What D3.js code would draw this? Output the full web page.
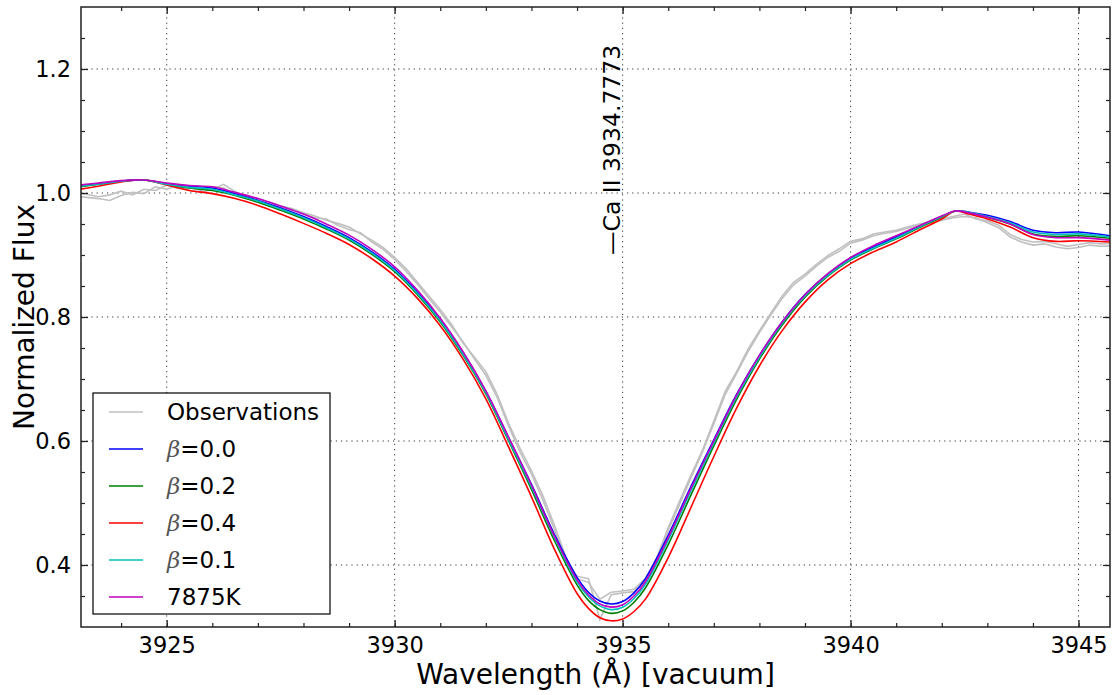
<!DOCTYPE html>
<html>
<head>
<meta charset="utf-8">
<script src="https://cdn.jsdelivr.net/npm/d3@7"></script>
<style>
  html, body { margin: 0; padding: 0; background: #fff; }
  svg { display: block; font-family: "DejaVu Sans", sans-serif; }
  .grid line { stroke: #333; stroke-width: 1; stroke-dasharray: 1.2,4; }
  .tick text { font-size: 22.5px; fill: #000; }
  .ax path.domain { display: none; }
  .ax line { stroke: #222; stroke-width: 1.2; }
</style>
</head>
<body>
<svg id="viz" width="1115" height="695"></svg>
<script>
// model wavelength grid (Å) and flux values
const waveModel = [3923.1, 3923.5, 3924.0, 3924.5, 3925.0, 3925.5, 3926.0, 3926.5, 3927.0, 3927.5,
  3928.0, 3928.5, 3929.0, 3929.5, 3930.0, 3930.5, 3931.0, 3931.5, 3932.0, 3932.5,
  3933.0, 3933.5, 3934.0, 3934.25, 3934.5, 3934.75, 3935.0, 3935.25, 3935.5, 3936.0,
  3936.5, 3937.0, 3937.5, 3938.0, 3938.5, 3939.0, 3939.5, 3940.0, 3940.5, 3941.0,
  3941.5, 3942.0, 3942.3, 3942.6, 3943.0, 3943.5, 3944.0, 3944.5, 3945.0, 3945.7];

const beta00 = [1.012, 1.015, 1.019, 1.021, 1.015, 1.011, 1.008, 0.999, 0.988, 0.976,
  0.962, 0.946, 0.928, 0.905, 0.877, 0.840, 0.796, 0.742, 0.680, 0.605,
  0.530, 0.450, 0.380, 0.356, 0.342, 0.337, 0.341, 0.355, 0.378, 0.448,
  0.527, 0.602, 0.675, 0.738, 0.792, 0.836, 0.869, 0.895, 0.913, 0.929,
  0.946, 0.962, 0.971, 0.969, 0.964, 0.954, 0.940, 0.936, 0.937, 0.931];
const beta02 = [1.010, 1.014, 1.019, 1.021, 1.014, 1.008, 1.004, 0.996, 0.985, 0.972,
  0.958, 0.942, 0.924, 0.901, 0.873, 0.836, 0.792, 0.738, 0.676, 0.600,
  0.522, 0.440, 0.368, 0.343, 0.328, 0.322, 0.326, 0.340, 0.363, 0.433,
  0.513, 0.592, 0.667, 0.732, 0.787, 0.832, 0.866, 0.892, 0.910, 0.926,
  0.944, 0.961, 0.971, 0.968, 0.961, 0.950, 0.934, 0.930, 0.931, 0.927];
const beta04 = [1.006, 1.011, 1.018, 1.021, 1.013, 1.004, 0.999, 0.991, 0.980, 0.966,
  0.951, 0.935, 0.917, 0.894, 0.866, 0.830, 0.786, 0.732, 0.668, 0.590,
  0.510, 0.426, 0.354, 0.330, 0.315, 0.310, 0.313, 0.325, 0.345, 0.412,
  0.493, 0.575, 0.653, 0.721, 0.778, 0.824, 0.860, 0.886, 0.905, 0.921,
  0.940, 0.958, 0.971, 0.966, 0.958, 0.945, 0.928, 0.922, 0.923, 0.921];
const beta01 = [1.011, 1.014, 1.019, 1.021, 1.014, 1.009, 1.006, 0.997, 0.987, 0.974,
  0.960, 0.944, 0.926, 0.903, 0.875, 0.838, 0.794, 0.740, 0.678, 0.602,
  0.526, 0.445, 0.373, 0.349, 0.334, 0.328, 0.332, 0.346, 0.369, 0.440,
  0.520, 0.597, 0.671, 0.735, 0.790, 0.834, 0.867, 0.893, 0.911, 0.927,
  0.945, 0.962, 0.971, 0.969, 0.962, 0.952, 0.937, 0.933, 0.934, 0.929];
const t7875 = [1.013, 1.016, 1.020, 1.021, 1.016, 1.012, 1.010, 1.001, 0.991, 0.979,
  0.966, 0.950, 0.932, 0.909, 0.881, 0.843, 0.798, 0.744, 0.681, 0.606,
  0.529, 0.447, 0.376, 0.352, 0.337, 0.332, 0.336, 0.350, 0.373, 0.444,
  0.524, 0.600, 0.674, 0.738, 0.792, 0.836, 0.870, 0.896, 0.915, 0.931,
  0.947, 0.963, 0.971, 0.968, 0.961, 0.950, 0.933, 0.928, 0.928, 0.924];

// observed spectra (two exposures), 0.25 Å steps
const waveObs = [3923.00, 3923.25, 3923.50, 3923.75, 3924.00, 3924.25, 3924.50, 3924.75,
  3925.00, 3925.25, 3925.50, 3925.75, 3926.00, 3926.25, 3926.50, 3926.75,
  3927.00, 3927.25, 3927.50, 3927.75, 3928.00, 3928.25, 3928.50, 3928.75,
  3929.00, 3929.25, 3929.50, 3929.75, 3930.00, 3930.25, 3930.50, 3930.75,
  3931.00, 3931.25, 3931.50, 3931.75, 3932.00, 3932.25, 3932.50, 3932.75,
  3933.00, 3933.25, 3933.50, 3933.75, 3934.00, 3934.25, 3934.50, 3934.75,
  3935.00, 3935.25, 3935.50, 3935.75, 3936.00, 3936.25, 3936.50, 3936.75,
  3937.00, 3937.25, 3937.50, 3937.75, 3938.00, 3938.25, 3938.50, 3938.75,
  3939.00, 3939.25, 3939.50, 3939.75, 3940.00, 3940.25, 3940.50, 3940.75,
  3941.00, 3941.25, 3941.50, 3941.75, 3942.00, 3942.25, 3942.50, 3942.75,
  3943.00, 3943.25, 3943.50, 3943.75, 3944.00, 3944.25, 3944.50, 3944.75,
  3945.00, 3945.25, 3945.50, 3945.75];
const obsA = [0.995, 0.993, 0.991, 0.988, 0.996, 1.001, 0.999, 1.010,
  1.006, 1.012, 1.004, 1.001, 1.006, 1.014, 1.002, 0.994,
  0.989, 0.985, 0.979, 0.975, 0.968, 0.963, 0.956, 0.951,
  0.945, 0.934, 0.924, 0.912, 0.896, 0.878, 0.856, 0.834,
  0.812, 0.788, 0.758, 0.735, 0.712, 0.675, 0.628, 0.588,
  0.552, 0.512, 0.465, 0.414, 0.378, 0.372, 0.345, 0.356,
  0.358, 0.361, 0.378, 0.412, 0.460, 0.503, 0.545, 0.585,
  0.632, 0.680, 0.712, 0.748, 0.778, 0.806, 0.834, 0.856,
  0.869, 0.885, 0.899, 0.910, 0.922, 0.926, 0.934, 0.937,
  0.940, 0.945, 0.950, 0.954, 0.958, 0.962, 0.966, 0.958,
  0.955, 0.948, 0.933, 0.925, 0.921, 0.922, 0.918, 0.914,
  0.917, 0.920, 0.918, 0.919];
const obsB = [1.001, 0.998, 0.994, 0.997, 1.003, 0.997, 1.006, 1.004,
  1.013, 1.007, 1.009, 1.004, 1.010, 1.008, 0.998, 0.992,
  0.990, 0.983, 0.977, 0.972, 0.966, 0.960, 0.958, 0.948,
  0.941, 0.936, 0.921, 0.909, 0.893, 0.874, 0.853, 0.830,
  0.808, 0.784, 0.760, 0.732, 0.706, 0.670, 0.624, 0.582,
  0.547, 0.505, 0.458, 0.410, 0.382, 0.378, 0.312, 0.352,
  0.355, 0.357, 0.375, 0.408, 0.456, 0.498, 0.541, 0.582,
  0.628, 0.675, 0.709, 0.744, 0.775, 0.803, 0.830, 0.852,
  0.866, 0.882, 0.896, 0.906, 0.919, 0.924, 0.931, 0.935,
  0.938, 0.943, 0.948, 0.952, 0.956, 0.960, 0.962, 0.960,
  0.952, 0.944, 0.929, 0.921, 0.916, 0.918, 0.913, 0.910,
  0.912, 0.916, 0.914, 0.915];

const seriesNames = ["β=0.0", "β=0.2", "β=0.4", "β=0.1", "7875K"];
const seriesValues = [beta00, beta02, beta04, beta01, t7875];
const seriesColors = ["#0000ff", "#008000", "#ff0000", "#00bfbf", "#bf00bf"];
const obsColor = "#c0c0c0";

const xTicks = [3925, 3930, 3935, 3940, 3945];
const yTicks = [0.4, 0.6, 0.8, 1.0, 1.2];
const lineWave = 3934.7773;
const lineLabel = "—Ca II 3934.7773";

const svg = d3.select("#viz");
const W = 1115, H = 695;
const m = { left: 81, right: 5, top: 7, bottom: 68 };
const pw = W - m.left - m.right, ph = H - m.top - m.bottom;

const x = d3.scaleLinear().domain([3923.12, 3945.69]).range([m.left, m.left + pw]);
const y = d3.scaleLinear().domain([0.3, 1.3]).range([m.top + ph, m.top]);

svg.append("defs").append("clipPath").attr("id", "clip")
  .append("rect").attr("x", m.left).attr("y", m.top).attr("width", pw).attr("height", ph);

// grid
const grid = svg.append("g").attr("class", "grid");
grid.selectAll(".gx").data(xTicks).join("line")
  .attr("x1", d => x(d)).attr("x2", d => x(d))
  .attr("y1", m.top).attr("y2", m.top + ph);
grid.selectAll(".gy").data(yTicks).join("line")
  .attr("x1", m.left).attr("x2", m.left + pw)
  .attr("y1", d => y(d)).attr("y2", d => y(d));

// spectra
const plot = svg.append("g").attr("clip-path", "url(#clip)");
const line = d3.line().x(d => x(d[0])).y(d => y(d[1]));

[obsA, obsB].forEach(vals => {
  plot.append("path")
    .attr("d", line(waveObs.map((w, i) => [w, vals[i]])))
    .attr("fill", "none").attr("stroke", obsColor).attr("stroke-width", 1.6);
});
seriesValues.forEach((vals, k) => {
  plot.append("path")
    .attr("d", line.curve(d3.curveCatmullRom)(waveModel.map((w, i) => [w, vals[i]])))
    .attr("fill", "none").attr("stroke", seriesColors[k]).attr("stroke-width", 1.6);
});

// axes: ticks point inward on all four sides
const xMinor = d3.range(3924, 3946, 1);
const yMinor = d3.range(0.35, 1.3, 0.05);
function axis(gen, tx, ty, vals, size, fmt, pad) {
  svg.append("g").attr("class", "ax").attr("transform", `translate(${tx},${ty})`)
    .call(gen.tickValues(vals).tickSize(size).tickFormat(fmt).tickPadding(pad));
}
const noLab = () => "";
axis(d3.axisBottom(x), 0, m.top + ph, xMinor, -4, noLab, 0);
axis(d3.axisTop(x), 0, m.top, xMinor, -4, noLab, 0);
axis(d3.axisLeft(y), m.left, 0, yMinor, -4, noLab, 0);
axis(d3.axisRight(y), m.left + pw, 0, yMinor, -4, noLab, 0);
axis(d3.axisBottom(x), 0, m.top + ph, xTicks, -7, d3.format("d"), 10);
axis(d3.axisTop(x), 0, m.top, xTicks, -7, noLab, 0);
axis(d3.axisLeft(y), m.left, 0, yTicks, -7, d3.format(".1f"), 10);
axis(d3.axisRight(y), m.left + pw, 0, yTicks, -7, noLab, 0);

svg.selectAll(".ax .tick text").style("font-family", "DejaVu Sans");

// frame
svg.append("rect").attr("x", m.left).attr("y", m.top).attr("width", pw).attr("height", ph)
  .attr("fill", "none").attr("stroke", "#222").attr("stroke-width", 1.5);

// line marker label
svg.append("text")
  .attr("transform", `translate(${x(lineWave) + 8},255) rotate(-90)`)
  .attr("font-size", 23.5).attr("fill", "#000")
  .text(lineLabel);

// axis labels
svg.append("text").attr("x", m.left + pw / 2).attr("y", 684)
  .attr("text-anchor", "middle").attr("font-size", 28).text("Wavelength (Å) [vacuum]");
svg.append("text").attr("transform", `translate(34,${m.top + ph / 2}) rotate(-90)`)
  .attr("text-anchor", "middle").attr("font-size", 28).text("Normalized Flux");

// legend
const lg = svg.append("g").attr("transform", "translate(93,393)");
lg.append("rect").attr("width", 237).attr("height", 221)
  .attr("fill", "#fff").attr("stroke", "#000").attr("stroke-width", 1.2);
const legNames = ["Observations"].concat(seriesNames);
const legColors = [obsColor].concat(seriesColors);
legNames.forEach((name, i) => {
  const cy = 19 + i * 37;
  lg.append("line").attr("x1", 16).attr("x2", 50).attr("y1", cy).attr("y2", cy)
    .attr("stroke", legColors[i]).attr("stroke-width", 1.6);
  const t = lg.append("text").attr("x", 74).attr("y", cy + 8).attr("font-size", 23);
  if (name.startsWith("β")) {
    t.append("tspan").attr("font-family", "DejaVu Serif").attr("font-style", "italic")
      .attr("fill", "#555").text("β");
    t.append("tspan").text(name.slice(1));
  } else {
    t.text(name);
  }
});
</script>
</body>
</html>
